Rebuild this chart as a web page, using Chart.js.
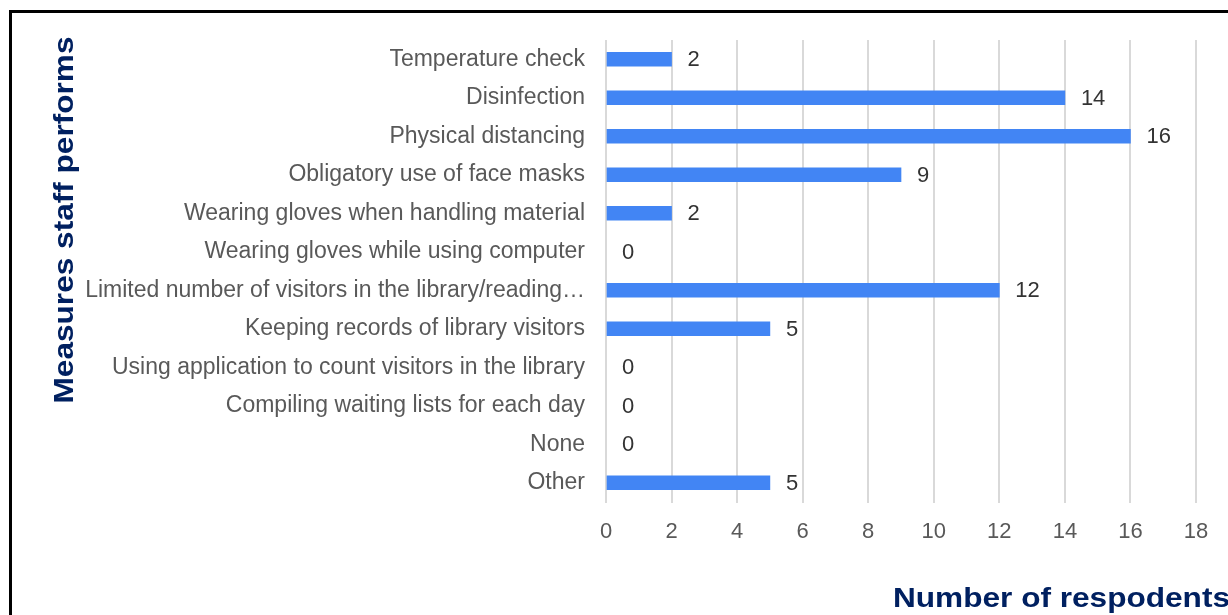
<!DOCTYPE html>
<html>
<head>
<meta charset="utf-8">
<script src="https://cdn.jsdelivr.net/npm/chart.js@4"></script>
<style>
  html, body { margin: 0; padding: 0; background: #fff; overflow: hidden; }
  #wrap { position: relative; width: 1228px; height: 615px; }
  #frame { position: absolute; left: 9px; top: 10px; width: 1240px; height: 640px; border: 3px solid #000; box-sizing: border-box; pointer-events: none; }
  canvas { position: absolute; left: 0; top: 0; }
</style>
</head>
<body>
<div id="wrap">
  <canvas id="grafico" width="1228" height="615"></canvas>
  <div id="frame"></div>
</div>
<script>
const categorias = [
    'Temperature check',
    'Disinfection',
    'Physical distancing',
    'Obligatory use of face masks',
    'Wearing gloves when handling material',
    'Wearing gloves while using computer',
    'Limited number of visitors in the library/reading…',
    'Keeping records of library visitors',
    'Using application to count visitors in the library',
    'Compiling waiting lists for each day',
    'None',
    'Other'
];
const respondentes = [2, 14, 16, 9, 2, 0, 12, 5, 0, 0, 0, 5];
const ticksX = [0, 2, 4, 6, 8, 10, 12, 14, 16, 18];

const tituloY = 'Measures staff performs';
const tituloX = 'Number of respodents';

const fonte = '"Liberation Sans", Arial, sans-serif';

// rotulos de valor na ponta de cada barra
const rotulosBarras = {
    id: 'rotulosBarras',
    afterDatasetsDraw(chart) {
        const ctx = chart.ctx;
        const meta = chart.getDatasetMeta(0);
        ctx.save();
        ctx.font = '22px ' + fonte;
        ctx.fillStyle = '#333333';
        ctx.textAlign = 'left';
        ctx.textBaseline = 'middle';
        meta.data.forEach((bar, i) => {
            ctx.fillText(String(respondentes[i]), bar.x + 16, bar.y + 1);
        });
        ctx.restore();
    }
};

// titulos dos eixos (um pouco esticados, como no original)
const titulosEixos = {
    id: 'titulosEixos',
    afterDraw(chart) {
        const ctx = chart.ctx;
        ctx.save();
        ctx.font = 'bold 27px ' + fonte;
        ctx.fillStyle = '#002060';
        ctx.textBaseline = 'middle';
        ctx.textAlign = 'center';
        ctx.translate(66, 220);
        ctx.rotate(-Math.PI / 2);
        ctx.scale(1.17, 1);
        ctx.fillText(tituloY, 0, 0);
        ctx.restore();

        ctx.save();
        ctx.font = 'bold 27px ' + fonte;
        ctx.fillStyle = '#002060';
        ctx.textBaseline = 'middle';
        ctx.textAlign = 'left';
        ctx.translate(893, 600);
        ctx.scale(1.17, 1);
        ctx.fillText(tituloX, 0, 0);
        ctx.restore();
    }
};

new Chart(document.getElementById('grafico'), {
    type: 'bar',
    data: {
        labels: categorias,
        datasets: [{
            data: respondentes,
            backgroundColor: (c) => c.raw === 0 ? 'rgba(0,0,0,0)' : '#4285F4',
            barThickness: 14,
            borderSkipped: false
        }]
    },
    options: {
        indexAxis: 'y',
        responsive: false,
        animation: false,
        layout: { padding: { top: 40, right: 32, left: 0, bottom: 0 } },
        plugins: {
            legend: { display: false },
            title: { display: false },
            tooltip: { enabled: false }
        },
        scales: {
            x: {
                min: 0,
                max: 18,
                afterBuildTicks: (scale) => {
                    scale.ticks = ticksX.map(v => ({ value: v }));
                },
                afterFit: (scale) => { scale.height = 113; },
                grid: { color: '#d9d9d9', lineWidth: 2, tickLength: 1, drawTicks: true },
                border: { display: false },
                ticks: {
                    color: '#595959',
                    font: { family: fonte, size: 22 },
                    padding: 16
                }
            },
            y: {
                afterFit: (scale) => { scale.width = 606; },
                grid: { display: false },
                border: { display: false },
                ticks: {
                    color: '#595959',
                    font: { family: fonte, size: 23 },
                    padding: 13,
                    autoSkip: false
                }
            }
        }
    },
    plugins: [rotulosBarras, titulosEixos]
});
</script>
</body>
</html>
